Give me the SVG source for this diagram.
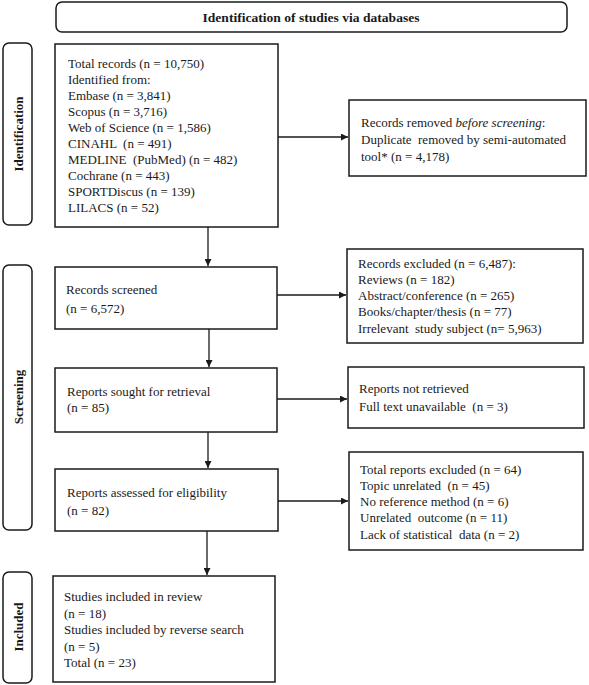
<svg xmlns="http://www.w3.org/2000/svg" width="589" height="685" viewBox="0 0 589 685">
<style>
.box{fill:#fff;stroke:#1a1a1a;stroke-width:1.5}
.side{fill:#fff;stroke:#1a1a1a;stroke-width:1.5}
.t{font-family:"Liberation Serif","Times New Roman",serif;font-size:13px;fill:#1a1a1a}
.b{font-family:"Liberation Serif","Times New Roman",serif;font-size:13px;font-weight:bold;fill:#1a1a1a}
.c{fill:none;stroke:#1a1a1a;stroke-width:1.3}
</style>
<defs>
<marker id="ah" viewBox="0 0 10 10" refX="10" refY="5" markerWidth="7" markerHeight="7" markerUnits="userSpaceOnUse" orient="auto">
<path d="M0,0 L10,5 L0,10 z" fill="#1a1a1a"/>
</marker>
</defs>
<rect width="589" height="685" fill="#fff"/>
<g id="header">
<rect class="side" x="56" y="2" width="511" height="30" rx="6"/>
<text class="b" x="311" y="22" text-anchor="middle" textLength="217" lengthAdjust="spacingAndGlyphs">Identification of studies via databases</text>
</g>
<g id="label-identification">
<rect class="side" x="3" y="43" width="29" height="182" rx="6"/>
<text class="b" transform="translate(22.5,134) rotate(-90)" text-anchor="middle">Identification</text>
</g>
<g id="label-screening">
<rect class="side" x="3" y="265" width="29" height="265" rx="6"/>
<text class="b" transform="translate(22.5,397) rotate(-90)" text-anchor="middle">Screening</text>
</g>
<g id="label-included">
<rect class="side" x="3" y="572" width="29" height="111" rx="6"/>
<text class="b" transform="translate(22.5,627) rotate(-90)" text-anchor="middle">Included</text>
</g>
<g id="connectors">
<line class="c" x1="208" y1="227" x2="208" y2="266" marker-end="url(#ah)"/>
<line class="c" x1="209" y1="329" x2="209" y2="367" marker-end="url(#ah)"/>
<line class="c" x1="208" y1="432" x2="208" y2="468" marker-end="url(#ah)"/>
<line class="c" x1="207" y1="531" x2="207" y2="575" marker-end="url(#ah)"/>
<line class="c" x1="278" y1="137" x2="348" y2="137" marker-end="url(#ah)"/>
<line class="c" x1="277" y1="295" x2="346" y2="295" marker-end="url(#ah)"/>
<line class="c" x1="277" y1="399" x2="347" y2="399" marker-end="url(#ah)"/>
<line class="c" x1="278" y1="501" x2="348" y2="501" marker-end="url(#ah)"/>
</g>
<g id="total-records">
<rect class="box" x="55" y="44" width="223" height="183"/>
<text class="t" x="68" y="67.5">Total records (n = 10,750)</text>
<text class="t" x="68" y="83.5">Identified  from:</text>
<text class="t" x="68" y="99.5">Embase (n = 3,841)</text>
<text class="t" x="68" y="115.5">Scopus (n = 3,716)</text>
<text class="t" x="68" y="131.5">Web of Science (n = 1,586)</text>
<text class="t" x="68" y="147.5" xml:space="preserve">CINAHL  (n = 491)</text>
<text class="t" x="68" y="163.5" xml:space="preserve">MEDLINE  (PubMed) (n = 482)</text>
<text class="t" x="68" y="179.5">Cochrane (n = 443)</text>
<text class="t" x="68" y="195.5">SPORTDiscus (n = 139)</text>
<text class="t" x="68" y="211.5">LILACS (n = 52)</text>
</g>
<g id="records-removed">
<rect class="box" x="349" y="100" width="237" height="76"/>
<text class="t" x="361" y="127">Records removed <tspan font-style="italic">before screening</tspan>:</text>
<text class="t" x="361" y="144" xml:space="preserve">Duplicate  removed by semi-automated</text>
<text class="t" x="361" y="161">tool* (n = 4,178)</text>
</g>
<g id="records-screened">
<rect class="box" x="55" y="267" width="222" height="62"/>
<text class="t" x="66" y="294">Records screened</text>
<text class="t" x="66" y="313">(n = 6,572)</text>
</g>
<g id="records-excluded">
<rect class="box" x="347" y="249" width="236" height="94"/>
<text class="t" x="358" y="268">Records excluded (n = 6,487):</text>
<text class="t" x="358" y="284">Reviews (n = 182)</text>
<text class="t" x="358" y="300">Abstract/conference (n = 265)</text>
<text class="t" x="358" y="316">Books/chapter/thesis (n = 77)</text>
<text class="t" x="358" y="333" xml:space="preserve">Irrelevant  study subject (n= 5,963)</text>
</g>
<g id="reports-sought">
<rect class="box" x="55" y="368" width="222" height="64"/>
<text class="t" x="67" y="396">Reports sought for retrieval</text>
<text class="t" x="67" y="412">(n = 85)</text>
</g>
<g id="reports-not-retrieved">
<rect class="box" x="348" y="367" width="236" height="61"/>
<text class="t" x="359" y="393">Reports not retrieved</text>
<text class="t" x="359" y="411" xml:space="preserve">Full text unavailable  (n = 3)</text>
</g>
<g id="reports-assessed">
<rect class="box" x="55" y="469" width="223" height="62"/>
<text class="t" x="67" y="497">Reports assessed for eligibility</text>
<text class="t" x="67" y="515">(n = 82)</text>
</g>
<g id="reports-excluded">
<rect class="box" x="349" y="452" width="234" height="98"/>
<text class="t" x="360" y="474">Total reports excluded (n = 64)</text>
<text class="t" x="360" y="490" xml:space="preserve">Topic unrelated  (n = 45)</text>
<text class="t" x="360" y="506">No reference method (n = 6)</text>
<text class="t" x="360" y="522" xml:space="preserve">Unrelated  outcome (n = 11)</text>
<text class="t" x="360" y="539" xml:space="preserve">Lack of statistical  data (n = 2)</text>
</g>
<g id="studies-included">
<rect class="box" x="53" y="576" width="222" height="106"/>
<text class="t" x="64" y="601">Studies included in review</text>
<text class="t" x="64" y="618">(n = 18)</text>
<text class="t" x="64" y="634">Studies included by reverse search</text>
<text class="t" x="64" y="651">(n = 5)</text>
<text class="t" x="64" y="667">Total (n = 23)</text>
</g>
</svg>
